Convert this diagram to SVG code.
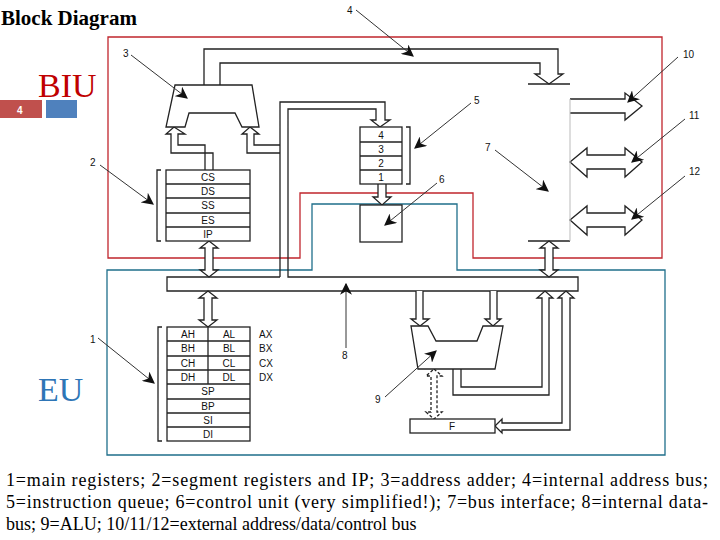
<svg xmlns="http://www.w3.org/2000/svg" width="720" height="540" viewBox="0 0 720 540">
<style>
.s{fill:none;stroke:#222;stroke-width:1.3}
.w{fill:#fff;stroke:#222;stroke-width:1.3}
.p{fill:none;stroke:#333;stroke-width:1;marker-end:url(#ah)}
.t{font-family:"Liberation Sans",Arial,sans-serif;font-size:10px;fill:#111;text-anchor:middle}
.n{font-family:"Liberation Sans",Arial,sans-serif;font-size:10px;fill:#111}
.c{font-family:"Liberation Serif","Times New Roman",serif;font-size:18px;fill:#000}
</style>
<defs><marker id="ah" viewBox="0 0 10 10" refX="9" refY="5" markerWidth="12" markerHeight="12" markerUnits="userSpaceOnUse" orient="auto"><path d="M0,0 L10,5 L0,10 L3,5 Z" fill="#111"/></marker></defs>
<rect width="720" height="540" fill="#fff"/>
<text x="1" y="25" font-family="Liberation Serif,serif" font-size="21" font-weight="bold">Block Diagram</text>
<g id="biu-label"><rect x="0" y="100" width="42" height="18" fill="#c0504d"/><text x="17" y="114" font-family="Liberation Sans,sans-serif" font-size="10" font-weight="bold" fill="#fff">4</text><rect x="46" y="100" width="31" height="18" fill="#4f81bd"/><text x="38" y="97" font-family="Liberation Serif,serif" font-size="34" fill="#c00000">BIU</text></g>
<text x="38" y="401" font-family="Liberation Serif,serif" font-size="34" fill="#2e75b6">EU</text>
<path d="M108,37 H662 V258 H473 V193 H300 V258 H108 Z" fill="none" stroke="#c0262d" stroke-width="1.3"/>
<path d="M107,270 H312 V204 H457 V270 H665 V455 H107 Z" fill="none" stroke="#1f6f8b" stroke-width="1.3"/>
<g id="connectors">
<path class="s" d="M204,85 V49 H558 V74 L563,74 L549,84 L535,74 L540,74 V63 H220 V85"/>
<path class="s" d="M213,170 V153 H171 V134 H166 L174,127 L185,134 H178 V145 H205 V170"/>
<path class="s" d="M280,153 H247 V134 H242 L250,127 L259,134 H254 V145 H280"/>
<path class="s" d="M280,277 V102 H385 V120 H390 L380,127 L371,120 H376 V109 H288 V277 H578 V291 H167 V277 H280"/>
<path class="w" d="M209,241 L218,248 L213,248 L213,270 L218,270 L209,277 L200,270 L205,270 L205,248 L200,248 Z"/>
<path class="w" d="M208,291 L217,298 L212,298 L212,320 L217,320 L208,327 L199,320 L204,320 L204,298 L199,298 Z"/>
<path class="w" d="M549,241 L558,248 L553,248 L553,270 L558,270 L549,277 L540,270 L545,270 L545,248 L540,248 Z"/>
<path class="w" d="M378,184 L378,197 L373,197 L382,205 L391,197 L386,197 L386,184"/>
<path class="w" d="M416,291 V319 H411 L420,326 L429,319 H423 V291"/>
<path class="w" d="M490,291 V319 H485 L493,326 L501,319 H497 V291"/>
<path class="s" d="M453,369 V395 H549 V298 H553 L545,291 L537,298 H542 V387 H461 V369"/>
<path class="s" d="M558,298 L566,291 L574,298 H570 V430 H502 V433 L495,426 L502,419 V423 H562 V298 Z"/>
<path class="s" stroke-dasharray="3,2" d="M434,369 L442,376 H437 V412 H442 L434,419 L426,412 H431 V376 H426 Z"/>
<path class="w" d="M570,99 H625 V93 L642,106 L625,120 V113 H570"/>
<path class="w" d="M570,162 L587,148 V155 H625 V148 L642,162 L625,177 V169 H587 V177 Z"/>
<path class="w" d="M570,220 L587,206 V213 H625 V206 L642,220 L625,235 V227 H587 V235 Z"/>
</g>
<g id="adder"><path class="w" d="M175,85 H252 L259,127 H242 L235,113 H189 L185,127 H166 Z"/></g>
<g id="queue"><rect class="w" x="360" y="127" width="42" height="57"/><path class="s" d="M360,142 H402 M360,156 H402 M360,170 H402 M406,127 H410 V184 H406"/>
<text class="t" x="381" y="139">4</text><text class="t" x="381" y="153">3</text><text class="t" x="381" y="167">2</text><text class="t" x="381" y="181">1</text></g>
<g id="control"><rect class="w" x="360" y="205" width="42" height="37"/></g>
<g id="bus-interface"><path class="s" d="M528,84 H570 M528,241 H570"/><path d="M570,99 V241" stroke="#bbb" fill="none"/></g>
<g id="segregs"><rect class="w" x="166" y="170" width="84" height="71"/><path class="s" d="M166,184 H250 M166,198 H250 M166,213 H250 M166,227 H250 M161,170 H157 V241 H161"/>
<text class="t" x="208" y="181">CS</text><text class="t" x="208" y="195">DS</text><text class="t" x="208" y="209">SS</text><text class="t" x="208" y="224">ES</text><text class="t" x="208" y="238">IP</text></g>
<g id="mainregs"><rect class="w" x="167" y="327" width="83" height="114"/><path class="s" d="M167,341 H250 M167,356 H250 M167,370 H250 M167,384 H250 M167,399 H250 M167,413 H250 M167,427 H250 M208,327 V384 M162,327 H158 V441 H162"/>
<g class="t"><text x="188" y="338">AH</text><text x="229" y="338">AL</text><text x="188" y="352">BH</text><text x="229" y="352">BL</text><text x="188" y="367">CH</text><text x="229" y="367">CL</text><text x="188" y="381">DH</text><text x="229" y="381">DL</text><text x="208" y="395">SP</text><text x="208" y="410">BP</text><text x="208" y="424">SI</text><text x="208" y="438">DI</text></g>
<g class="n"><text x="259" y="338">AX</text><text x="259" y="352">BX</text><text x="259" y="367">CX</text><text x="259" y="381">DX</text></g></g>
<g id="alu"><path class="w" d="M411,326 H428 L436,341 H477 L483,326 H503 L495,369 H418 Z"/></g>
<g id="flags"><rect class="w" x="410" y="419" width="85" height="14"/><text class="t" x="452" y="430">F</text></g>
<g id="pointers">
<path class="p" d="M100,165 L153,204"/>
<path class="p" d="M98,338 L154,383"/>
<path class="p" d="M131,55 L187,98"/>
<path class="p" d="M356,10 L413,56"/>
<path class="p" d="M471,103 L415,148"/>
<path class="p" d="M437,183 L385,225"/>
<path class="p" d="M495,150 L548,191"/>
<path class="p" d="M678,57 L628,102"/>
<path class="p" d="M685,119 L632,162"/>
<path class="p" d="M685,176 L632,219"/>
<path class="p" d="M346,348 L346,284"/>
<path class="p" d="M385,397 L436,351"/>
</g>
<g id="labels" class="n"><text x="90" y="166">2</text><text x="90" y="343">1</text><text x="123" y="57">3</text><text x="347" y="14">4</text><text x="474" y="104">5</text><text x="439" y="183">6</text><text x="485" y="151">7</text><text x="342" y="359">8</text><text x="375" y="403">9</text><text x="683" y="58">10</text><text x="689" y="119">11</text><text x="689" y="175">12</text></g>
<text class="c" x="6" y="486" textLength="702" lengthAdjust="spacing">1=main registers; 2=segment registers and IP; 3=address adder; 4=internal address bus;</text>
<text class="c" x="6" y="508" textLength="702" lengthAdjust="spacing">5=instruction queue; 6=control unit (very simplified!); 7=bus interface; 8=internal data-</text>
<text class="c" x="6" y="530">bus; 9=ALU; 10/11/12=external address/data/control bus</text>
</svg>
